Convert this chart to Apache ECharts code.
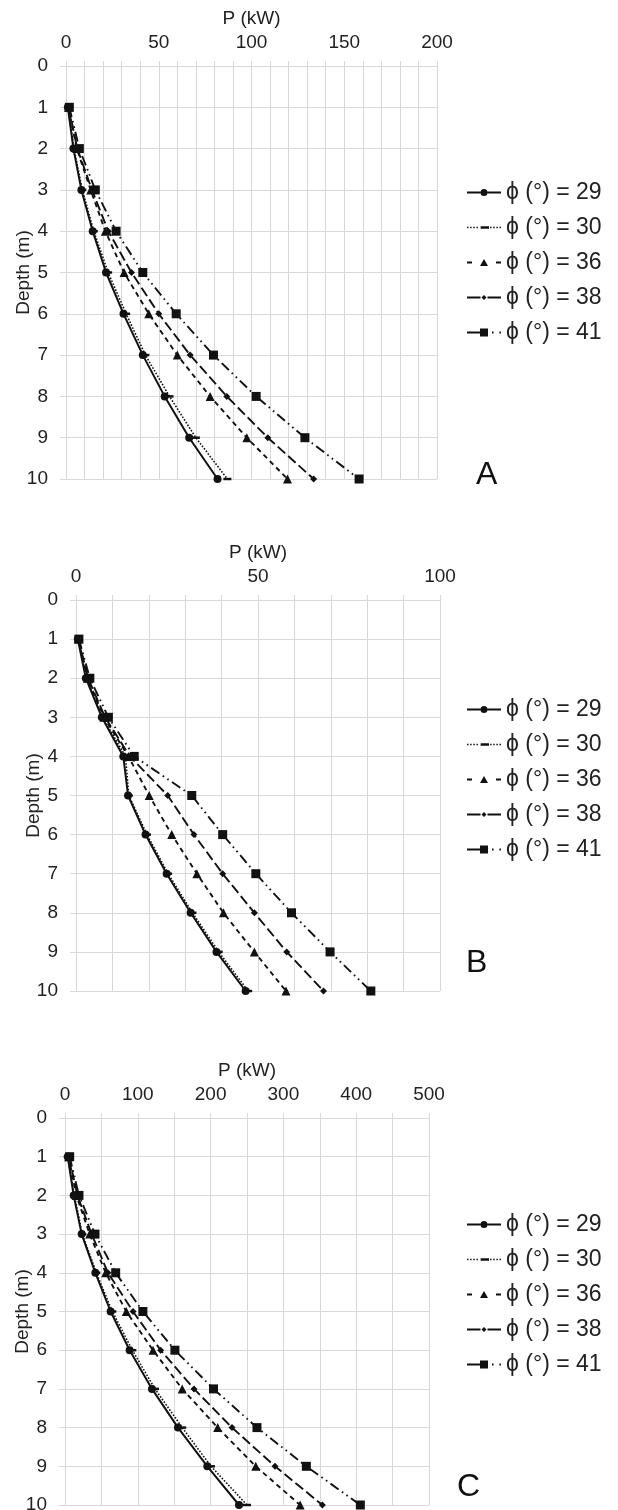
<!DOCTYPE html>
<html>
<head>
<meta charset="utf-8">
<script src="https://cdn.jsdelivr.net/npm/echarts@6/dist/echarts.min.js"></script>
<style>
  html, body { margin: 0; padding: 0; background: #ffffff; }
  #chart { width: 618px; height: 1510px; }
</style>
</head>
<body>
<div id="chart"></div>
<script>
// Depth of each computed point (m)
const depths = [1, 2, 3, 4, 5, 6, 7, 8, 9, 10];
const depthTicks = [0, 1, 2, 3, 4, 5, 6, 7, 8, 9, 10];

const seriesNames = ['ϕ (°) = 29', 'ϕ (°) = 30', 'ϕ (°) = 36', 'ϕ (°) = 38', 'ϕ (°) = 41'];

// Panel A: P (kW) per depth
const powerA_29 = [1.0, 4.0, 8.3, 14.4, 21.6, 31.0, 41.4, 53.2, 66.4, 81.7];
const powerA_30 = [1.1, 4.3, 8.8, 15.0, 22.7, 32.4, 42.8, 55.8, 70.0, 87.0];
const powerA_36 = [1.3, 5.8, 13.3, 21.2, 31.3, 44.6, 60.0, 77.7, 97.5, 119.4];
const powerA_38 = [1.4, 6.1, 14.0, 22.8, 35.3, 50.0, 66.9, 86.7, 108.8, 133.5];
const powerA_41 = [1.8, 7.2, 15.8, 27.0, 41.4, 59.4, 79.5, 102.5, 128.8, 158.0];
const xLabelsA = [0, 50, 100, 150, 200];

// Panel B
const powerB_29 = [0.5, 2.7, 7.1, 13.0, 14.3, 19.1, 24.9, 31.5, 38.6, 46.6];
const powerB_30 = [0.6, 2.9, 7.3, 13.6, 14.5, 19.5, 25.3, 32.0, 39.2, 47.3];
const powerB_36 = [0.6, 3.1, 7.7, 14.4, 20.1, 26.3, 33.2, 40.5, 49.0, 57.7];
const powerB_38 = [0.7, 3.3, 8.0, 14.8, 25.2, 32.4, 40.3, 49.0, 57.9, 68.0];
const powerB_41 = [0.8, 3.8, 8.9, 16.0, 31.8, 40.3, 49.4, 59.2, 69.8, 81.0];
const xLabelsB = [0, 50, 100];

// Panel C
const powerC_29 = [3.7, 11.9, 22.9, 41.7, 62.7, 88.8, 119.5, 155.2, 195.5, 239.0];
const powerC_30 = [4.0, 12.8, 23.8, 43.0, 65.0, 92.5, 123.6, 161.0, 200.5, 250.0];
const powerC_36 = [5.0, 15.6, 33.9, 55.9, 84.2, 120.9, 161.0, 209.7, 262.0, 323.0];
const powerC_38 = [5.5, 17.0, 36.6, 59.0, 93.4, 131.4, 177.2, 229.4, 288.5, 353.5];
const powerC_41 = [6.4, 19.2, 41.2, 69.6, 107.0, 151.0, 204.0, 263.7, 331.5, 405.7];
const xLabelsC = [0, 100, 200, 300, 400, 500];

const panelLetters = ['A', 'B', 'C'];

// ---------------------------------------------------------------------------
const FONT = '"Liberation Sans", Arial, Helvetica, sans-serif';
const INK = '#111111';
const TEXT = '#222222';
const GRID = '#d9d9d9';

const panels = [
  { values: [powerA_29, powerA_30, powerA_36, powerA_38, powerA_41], labels: xLabelsA, step: 10,
    grid: { left: 66, top: 66, width: 371, height: 413 },
    legendTop: 181, letter: { left: 476, top: 459 } },
  { values: [powerB_29, powerB_30, powerB_36, powerB_38, powerB_41], labels: xLabelsB, step: 10,
    grid: { left: 76, top: 600, width: 364, height: 391 },
    legendTop: 698, letter: { left: 466, top: 947 } },
  { values: [powerC_29, powerC_30, powerC_36, powerC_38, powerC_41], labels: xLabelsC, step: 50,
    grid: { left: 65, top: 1118, width: 364, height: 387 },
    legendTop: 1213, letter: { left: 457, top: 1471 } }
];

// line dash + marker for each friction angle
const seriesLook = [
  { symbol: 'circle', symbolSize: 8, dash: 'solid', width: 2 },
  { symbol: 'rect', symbolSize: [8, 2.5], dash: [1.6, 1.6], width: 1.6 },
  { symbol: 'triangle', symbolSize: 9, dash: [5, 4], width: 1.9 },
  { symbol: 'diamond', symbolSize: 7, dash: [10, 4], width: 1.9 },
  { symbol: 'rect', symbolSize: 9, dash: [10, 4, 1.6, 4, 1.6, 4], width: 1.9 }
];

// legend glyphs (34 x 10 box): line pieces as thin bars plus the marker
function bar(x0, x1, h) {
  const y = 5 - h / 2;
  return 'M' + x0 + ',' + y + 'H' + x1 + 'V' + (y + h) + 'H' + x0 + 'Z';
}
function barsAlong(x0, x1, dash, gap, h) {
  let p = '';
  for (let x = x0; x < x1 - 0.01; x += dash + gap) p += bar(x, Math.min(x + dash, x1), h);
  return p;
}
const legendIcons = [
  'path://' + bar(0, 13.5, 2) + bar(20.5, 34, 2) +
    'M13.5,5A3.5,3.5 0 1,0 20.5,5A3.5,3.5 0 1,0 13.5,5Z',
  'path://' + barsAlong(0, 12, 1.4, 1.6, 1.4) + bar(13, 21, 2.2) + barsAlong(22, 34, 1.4, 1.6, 1.4),
  'path://' + bar(0, 5, 1.8) + 'M17,1.5L21,8.5H13Z' + bar(29, 34, 1.8),
  'path://' + bar(0, 13.5, 1.8) + 'M17,2.5L19.5,5L17,7.5L14.5,5Z' + bar(20.5, 34, 1.8),
  'path://' + bar(0, 13, 1.8) + 'M13,1H21V9H13Z' + bar(25, 26.6, 1.8) + bar(32.4, 34, 1.8)
];

const option = {
  animation: false,
  backgroundColor: '#ffffff',
  textStyle: { fontFamily: FONT, color: TEXT },
  title: panels.map((p, i) => ({
    text: panelLetters[i], left: p.letter.left, top: p.letter.top, padding: 0,
    textStyle: { fontFamily: FONT, fontSize: 32, fontWeight: 'normal', color: '#111' }
  })),
  legend: panels.map((p) => ({
    orient: 'vertical', left: 467, top: p.legendTop, padding: 0,
    itemWidth: 34, itemHeight: 10, itemGap: 12, selectedMode: false,
    textStyle: { fontFamily: FONT, fontSize: 23, color: TEXT, padding: [0, 0, 0, 0] },
    data: seriesNames.map((n, k) => ({ name: n, icon: legendIcons[k] }))
  })),
  grid: panels.map((p) => Object.assign({ outerBoundsMode: 'none', containLabel: false }, p.grid)),
  xAxis: panels.map((p, i) => ({
    gridIndex: i, type: 'value', position: 'top',
    min: 0, max: p.labels[p.labels.length - 1], interval: p.step,
    name: 'P (kW)', nameLocation: 'middle', nameGap: 38, nameMoveOverlap: false,
    nameTextStyle: { fontFamily: FONT, fontSize: 19, color: TEXT },
    axisLine: { show: true, lineStyle: { color: GRID, width: 1 } },
    axisTick: { show: true, length: 5, lineStyle: { color: GRID } },
    axisLabel: {
      show: true, margin: 14, fontFamily: FONT, fontSize: 19, color: TEXT,
      formatter: (v) => (p.labels.indexOf(v) >= 0 ? String(v) : '')
    },
    splitLine: { show: true, lineStyle: { color: GRID, width: 1 } }
  })),
  yAxis: panels.map((p, i) => ({
    gridIndex: i, type: 'value', inverse: true,
    min: depthTicks[0], max: depthTicks[depthTicks.length - 1], interval: 1,
    name: 'Depth (m)', nameLocation: 'middle', nameGap: 33, nameMoveOverlap: false,
    nameTextStyle: { fontFamily: FONT, fontSize: 19, color: TEXT },
    axisLine: { show: true, lineStyle: { color: GRID, width: 1 } },
    axisTick: { show: true, length: 6, lineStyle: { color: GRID } },
    axisLabel: { show: true, margin: 18, fontFamily: FONT, fontSize: 19, color: TEXT },
    splitLine: { show: true, lineStyle: { color: GRID, width: 1 } }
  })),
  series: []
};

panels.forEach((p, i) => {
  p.values.forEach((vals, k) => {
    const look = seriesLook[k];
    option.series.push({
      type: 'line', name: seriesNames[k],
      xAxisIndex: i, yAxisIndex: i,
      data: depths.map((d, j) => [vals[j], d]),
      symbol: look.symbol, symbolSize: look.symbolSize, showSymbol: true,
      lineStyle: { color: INK, width: look.width, type: look.dash },
      itemStyle: { color: INK, borderWidth: 0 },
      emphasis: { disabled: true },
      clip: false, silent: true, z: 2 + (4 - k)
    });
  });
});

const chart = echarts.init(document.getElementById('chart'), null, { renderer: 'canvas' });
chart.setOption(option);
</script>
</body>
</html>
